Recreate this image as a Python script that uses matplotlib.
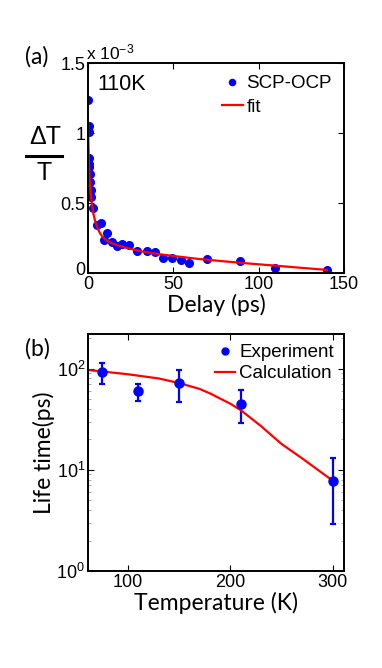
import numpy as np
import matplotlib.pyplot as plt
from matplotlib.lines import Line2D
from matplotlib.ticker import LogLocator, NullFormatter
from matplotlib.transforms import ScaledTranslation

# (a) pump-probe trace at 110K, dT/T in units of 1e-3
delay = [0.0, 0.3, 0.3, 0.6, 0.6, 0.6, 1.0, 1.2, 1.6, 2.0, 3.0,
         5.1, 7.4, 9.4, 11.1, 14.3, 16.8, 20.1, 24.2, 28.9, 34.4,
         39.3, 44.1, 49.2, 54.3, 59.4, 69.5, 89.0, 109.5, 139.8]
dtt = [1.236, 1.05, 1.01, 0.82, 0.78, 0.755, 0.707, 0.65, 0.593, 0.54, 0.462,
       0.343, 0.36, 0.236, 0.288, 0.224, 0.195, 0.207, 0.20, 0.16, 0.16,
       0.152, 0.105, 0.105, 0.093, 0.069, 0.10, 0.086, 0.038, 0.021]

fit_delay = [0.05, 0.2, 0.4, 0.7, 1.0, 1.5, 2.0, 2.5, 3.0, 4.0, 5.0, 6.0,
             7.0, 8.0, 10, 12, 14, 18, 25, 31, 40, 51, 65, 80, 95, 105, 120, 140]
fit_dtt = [1.05, 0.95, 0.85, 0.74, 0.66, 0.58, 0.52, 0.47, 0.43, 0.38, 0.34,
           0.31, 0.285, 0.267, 0.24, 0.225, 0.212, 0.195, 0.172, 0.155, 0.137,
           0.12, 0.10, 0.083, 0.067, 0.057, 0.042, 0.022]

# (b) lifetime vs temperature
temp = [75, 110, 150, 210, 300]
life = [92, 60, 72, 44.7, 7.8]
life_hi = [115, 71, 97, 61, 13]
life_lo = [71, 47.5, 47, 28.8, 2.9]

calc_temp = [61, 100, 130, 150, 170, 180, 200, 210, 230, 250, 270, 300]
calc_life = [97, 88, 80, 72, 63, 57, 45, 39, 27, 18, 13, 7.8]

W, H = 382, 668
BLUE = '#0000ff'
RED = '#ff0000'
LABELFONT = 'Lato'

plt.rcParams['font.family'] = ['Liberation Sans', 'DejaVu Sans']
plt.rcParams['mathtext.fontset'] = 'custom'
plt.rcParams['mathtext.rm'] = 'Liberation Sans'
plt.rcParams['mathtext.it'] = 'Liberation Sans'

fig = plt.figure(figsize=(W / 100, H / 100), dpi=100)


def fx(px):
    return px / W


def fy(py):
    return 1 - py / H


def style_axes(ax):
    for sp in ax.spines.values():
        sp.set_linewidth(1.4)
    ax.tick_params(which='both', direction='in', top=True, right=True,
                   labelsize=13, width=0.8, length=4, pad=2)


# ---- panel (a)
ax1 = fig.add_axes([fx(88), fy(273), fx(344) - fx(88), fy(63) - fy(273)])
ax1.plot(delay, dtt, 'o', color=BLUE, markersize=5.5, label='SCP-OCP')
ax1.plot(fit_delay, fit_dtt, '-', color=RED, linewidth=1.6, label='fit')
ax1.set_xlim(0, 150)
ax1.set_ylim(0, 1.5)
ax1.set_xticks([0, 50, 100, 150])
ax1.set_yticks([0, 0.5, 1, 1.5])
ax1.set_yticklabels(['0', '0.5', '1', '1.5'])
style_axes(ax1)
# nudge the y "0" up a little so it does not sit on the x "0"
lab0 = ax1.get_yticklabels()[0]
lab0.set_transform(lab0.get_transform() + ScaledTranslation(0, 3 / 72, fig.dpi_scale_trans))
ax1.set_xlabel('Delay (ps)', fontfamily=LABELFONT, fontsize=16.5, labelpad=1)
ax1.text(0.035, 0.9, '110K', fontsize=15.5, va='center', ha='left',
         transform=ax1.transAxes)
ax1.legend(loc='upper right', frameon=False, handlelength=1.1,
           handletextpad=0.2, borderaxespad=0.25, labelspacing=0.35,
           fontsize=13.5, markerscale=0.8)

fig.text(fx(86), fy(62), r'x 10$^{-3}$', fontsize=12.5, ha='left', va='bottom')

# dT / T label
fig.text(fx(45), fy(137), '\u0394T', fontsize=18, ha='center', va='center')
fig.add_artist(Line2D([fx(26), fx(62)], [fy(156.5), fy(156.5)],
                      color='black', linewidth=2.2))
fig.text(fx(44), fy(173), 'T', fontsize=18, ha='center', va='center')

fig.text(fx(37), fy(57), '(a)', fontfamily=LABELFONT, fontsize=16.5,
         ha='center', va='center')

# ---- panel (b)
ax2 = fig.add_axes([fx(88), fy(571), fx(344) - fx(88), fy(334) - fy(571)])
yerr = [np.array(life) - np.array(life_lo), np.array(life_hi) - np.array(life)]
ax2.errorbar(temp, life, yerr=yerr, fmt='o', color=BLUE, markersize=6.5,
             elinewidth=1.6, capsize=2.5, capthick=1.6)
ax2.plot(calc_temp, calc_life, '-', color=RED, linewidth=1.6)
ax2.set_yscale('log')
ax2.set_xlim(61, 311)
ax2.set_ylim(1, 220)
ax2.set_xticks([100, 200, 300])
ax2.yaxis.set_major_locator(LogLocator(base=10, numticks=5))
ax2.yaxis.set_minor_locator(LogLocator(base=10, subs=np.arange(2, 10), numticks=10))
ax2.yaxis.set_minor_formatter(NullFormatter())
style_axes(ax2)
ax2.tick_params(which='minor', length=2, width=0.5, color='#888888')
ax2.set_xlabel('Temperature (K)', fontfamily=LABELFONT, fontsize=16.5, labelpad=1)
ax2.set_ylabel('Life time(ps)', fontfamily=LABELFONT, fontsize=16.5, labelpad=1)

handles = [Line2D([], [], linestyle='none', marker='o', color=BLUE, markersize=5),
           Line2D([], [], color=RED, linewidth=1.6)]
ax2.legend(handles, ['Experiment', 'Calculation'], loc='upper right',
           frameon=False, handlelength=1.1, handletextpad=0.2,
           borderaxespad=0.15, labelspacing=0.2, fontsize=13.5)

fig.text(fx(37), fy(349), '(b)', fontfamily=LABELFONT, fontsize=16.5,
         ha='center', va='center')

fig.savefig('out.png', dpi=100)
